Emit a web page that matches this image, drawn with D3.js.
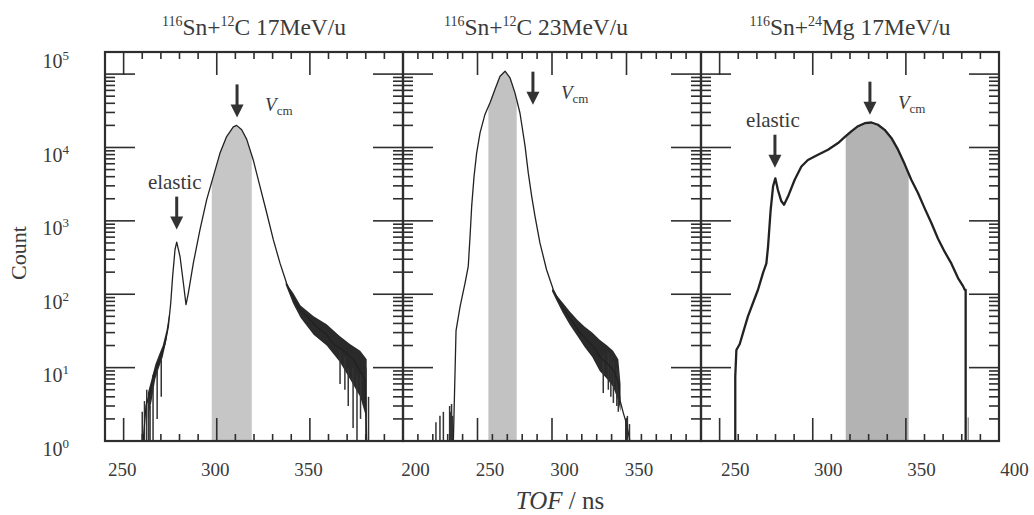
<!DOCTYPE html>
<html>
<head>
<meta charset="utf-8">
<script src="https://cdn.jsdelivr.net/npm/d3@7"></script>
<style>
body { margin: 0; background: #fff; }
svg { display: block; font-family: "Liberation Serif", "DejaVu Serif", serif; }
</style>
</head>
<body>
<div id="chart"></div>
<script>
// ---- values ----
var titleSupA = ["116", "116", "116"],
	titleMidA = ["Sn+", "Sn+", "Sn+"],
	titleSupB = ["12", "12", "24"],
	titleEnd = ["C 17MeV/u", "C 23MeV/u", "Mg 17MeV/u"];

var xDomains = [[240, 400], [200, 400], [240, 400]];
var xLabels = [[250, 300, 350], [200, 250, 300, 350], [250, 300, 350, 400]];
var yDomain = [1, 2e5];
var yLabels = [1, 10, 100, 1000, 10000, 100000];

// 116Sn + 12C 17 MeV/u
var p1Ns = [260.5, 262, 264.5, 266.8, 269.5, 272.2, 274.0, 275.3, 276.3, 277.6, 278.5, 280.3, 282.1, 283.5, 284.7, 287.4, 291.0, 294.6, 298.2, 301.7, 305.3, 308.9, 310.7, 313.4, 316.1, 319.6, 323.2, 326.8, 330.4, 334.0, 337.5, 341.1, 344.7, 348.3, 353.6, 359.0, 362.6, 368.0, 373.3, 376.9, 379.6, 380.5];
var p1Count = [1, 3, 5, 9, 13, 21, 36, 76, 174, 407, 513, 324, 141, 72, 102, 263, 759, 1950, 4070, 8320, 14100, 19100, 20000, 17400, 12900, 6760, 2950, 1290, 550, 263, 141, 89, 62, 50, 36, 28, 21, 17, 13, 9, 7, 1];
var p1RiseNs = [263, 265, 267, 269, 271, 273, 274.5];
var p1RiseLo = [2, 3.5, 7, 10, 14, 24, 45];
var p1RiseHi = [4.5, 7, 11, 15, 20, 32, 55];
var p1TailNs = [337, 341, 345, 352, 359, 366, 371.5, 377, 380.5];
var p1TailLo = [135, 75, 48, 28, 20, 12, 7, 4, 2];
var p1TailHi = [145, 105, 70, 50, 39, 27, 21, 17, 13];
var p1SpikeNs = [260.0, 261.2, 262.4, 263.5, 264.2, 265.8, 268.0, 270.2, 366.2, 368.8, 370.6, 373.2, 375.3, 377.2, 380.1, 381.5];
var p1SpikeLo = [1, 1, 1, 1, 1, 1, 2, 4, 6, 5, 3, 1.5, 1, 2, 1, 1];
var p1SpikeHi = [2.5, 3.5, 5, 4, 3, 8, 10, 14, 18, 14, 10, 10, 8, 8, 10, 4];

// 116Sn + 12C 23 MeV/u
var p2Ns = [233.8, 235.6, 238.3, 241.6, 243.8, 245.0, 246.1, 247.7, 249.4, 251.7, 255.0, 258.4, 261.7, 265.1, 268.5, 271.8, 275.2, 278.5, 281.9, 284.1, 286.4, 288.6, 291.9, 296.4, 300.9, 305.4, 309.8, 314.3, 318.8, 323.3, 327.7, 332.2, 336.7, 341.2, 344.5, 345.6, 347.9, 350.1, 352.3];
var p2Count = [1, 32, 68, 141, 240, 617, 1585, 4070, 8320, 15850, 28200, 40700, 61700, 93300, 109600, 89100, 55000, 29500, 10500, 4470, 2140, 1150, 501, 214, 115, 76, 55, 41, 30, 24, 19.5, 14, 11.5, 9.3, 6.2, 3.6, 2.4, 1.7, 1];
var p2TailNs = [300, 303, 307, 312, 317, 322, 327, 332, 337, 341, 344.5, 346];
var p2TailLo = [110, 82, 57, 38, 27, 19, 14, 9, 7, 5.5, 3.5, 2.5];
var p2TailHi = [120, 98, 78, 58, 45, 36, 30, 24, 20, 17, 13, 6];
var p2SpikeNs = [222.1, 224.8, 227.1, 231.3, 232.0, 232.6, 233.2, 334.4, 337.8, 339.5, 341.2, 343.5, 344.5, 349.5, 350.6, 352.0];
var p2SpikeLo = [1, 1, 1, 1, 1, 1, 1, 4.5, 5, 4, 3.3, 3, 2.5, 1, 1, 1];
var p2SpikeHi = [1.8, 2.2, 2.5, 3.0, 2.5, 3.2, 2.2, 15, 16, 14, 12, 10, 9, 2, 2.2, 1.7];

// 116Sn + 24Mg 17 MeV/u
var p3Ns = [258.4, 258.4, 259.0, 260.8, 262.6, 265.2, 267.9, 270.6, 273.3, 275.1, 276.0, 277.4, 278.7, 279.9, 281.3, 283.1, 284.6, 286.7, 290.3, 293.9, 297.4, 302.8, 308.2, 313.6, 317.1, 320.7, 324.3, 327.9, 331.5, 335.0, 338.6, 342.2, 345.8, 349.4, 352.9, 356.5, 360.1, 363.7, 367.2, 370.8, 374.4, 378.0, 380.7, 381.6, 382.1, 382.1];
var p3Count = [1, 7.6, 17.4, 21, 30, 50, 76, 115, 195, 263, 447, 1410, 2950, 3800, 2630, 1860, 1660, 2140, 3630, 5500, 6760, 7940, 9330, 11500, 13800, 16600, 19500, 21400, 21900, 20400, 17400, 13500, 9330, 5890, 3630, 2400, 1480, 933, 575, 380, 263, 166, 129, 115, 115, 1];
var p3SpikeNs = [383.5];
var p3SpikeLo = [1];
var p3SpikeHi = [2.1];

// gate windows (shaded) and arrows
var shadeFrom = [297.3, 257.3, 317.7],
	shadeTo = [318.8, 276.3, 351.5];
var annPanel = [0, 0, 1, 2, 2],
	annKind = ["elastic", "vcm", "vcm", "elastic", "vcm"],
	annNs = [278.5, 310.9, 287.2, 279.7, 330.7],
	annCount = [760, 25700, 38300, 5300, 28000];

// ---- layout ----
var W = 1034, H = 515,
	mLeft = 105, panelW = 298, mTop = 52, mBottom = 441,
	ink = "#2e2e2e", textInk = "#3a3a3a",
	labelShift = [-2, 12, 15];

var panels = [
	{ ns: p1Ns, count: p1Count, bands: [[p1RiseNs, p1RiseLo, p1RiseHi], [p1TailNs, p1TailLo, p1TailHi]], spikes: [p1SpikeNs, p1SpikeLo, p1SpikeHi], width: 1.3, shade: "#c6c6c6" },
	{ ns: p2Ns, count: p2Count, bands: [[p2TailNs, p2TailLo, p2TailHi]], spikes: [p2SpikeNs, p2SpikeLo, p2SpikeHi], width: 1.3, shade: "#c2c2c2" },
	{ ns: p3Ns, count: p3Count, bands: [], spikes: [p3SpikeNs, p3SpikeLo, p3SpikeHi], width: 2.3, shade: "#b3b3b3" }
];

var svg = d3.select("#chart").append("svg")
	.attr("width", W)
	.attr("height", H);

var y = d3.scaleLog().domain(yDomain).range([mBottom, mTop]);

// log tick values 1..9 per decade
var yTicks = [];
for (var d = 1; d <= yDomain[1]; d *= 10)
	for (var k = 1; k < 10; k++)
		if (k * d <= yDomain[1]) yTicks.push({ v: k * d, major: k === 1 });

panels.forEach(function (p, i) {
	var x0 = mLeft + i * panelW,
		x = d3.scaleLinear().domain(xDomains[i]).range([x0, x0 + panelW]),
		g = svg.append("g"),
		clipId = "clip" + i,
		shadeId = "shade" + i;

	var defs = svg.append("defs");
	defs.append("clipPath").attr("id", clipId)
		.append("rect").attr("x", x0).attr("y", mTop).attr("width", panelW).attr("height", mBottom - mTop);
	defs.append("clipPath").attr("id", shadeId)
		.append("rect").attr("x", x(shadeFrom[i])).attr("y", mTop)
		.attr("width", x(shadeTo[i]) - x(shadeFrom[i])).attr("height", mBottom - mTop);

	var rows = p.ns.map(function (v, j) { return { ns: v, c: p.count[j] }; });
	var data = g.append("g").attr("clip-path", "url(#" + clipId + ")");

	// shaded gate under the curve
	data.append("path")
		.datum(rows)
		.attr("clip-path", "url(#" + shadeId + ")")
		.attr("fill", p.shade)
		.attr("d", d3.area().x(function (r) { return x(r.ns); }).y0(mBottom).y1(function (r) { return y(r.c); }));

	// noisy parts as dark bands
	p.bands.forEach(function (b) {
		var br = b[0].map(function (v, j) { return { ns: v, lo: b[1][j], hi: b[2][j] }; });
		data.append("path")
			.datum(br)
			.attr("fill", "#2a2a2a")
			.attr("d", d3.area().x(function (r) { return x(r.ns); })
				.y0(function (r) { return y(r.lo); }).y1(function (r) { return y(r.hi); }));
	});

	var sp = p.spikes[0].map(function (v, j) { return { ns: v, lo: p.spikes[1][j], hi: p.spikes[2][j] }; });
	data.selectAll("line.spike").data(sp).join("line")
		.attr("class", "spike")
		.attr("x1", function (r) { return x(r.ns); }).attr("x2", function (r) { return x(r.ns); })
		.attr("y1", function (r) { return y(r.lo); }).attr("y2", function (r) { return y(r.hi); })
		.attr("stroke", i === 2 ? "#999" : "#333")
		.attr("stroke-width", 1.5);

	data.append("path")
		.datum(rows)
		.attr("fill", "none")
		.attr("stroke", "#222")
		.attr("stroke-width", p.width)
		.attr("stroke-linejoin", "round")
		.attr("d", d3.line().x(function (r) { return x(r.ns); }).y(function (r) { return y(r.c); }));

	// frame
	g.append("rect")
		.attr("x", x0).attr("y", mTop)
		.attr("width", panelW).attr("height", mBottom - mTop)
		.attr("fill", "none").attr("stroke", ink).attr("stroke-width", 2.2);

	// x ticks: every 10 ns, long every 50, on top and bottom, pointing in
	var xt = d3.range(xDomains[i][0], xDomains[i][1] + 1, 10);
	var tk = g.append("g").attr("stroke", ink).attr("stroke-width", 1.6);
	xt.forEach(function (v) {
		var len = v % 50 === 0 ? 23 : 7;
		tk.append("line").attr("x1", x(v)).attr("x2", x(v)).attr("y1", mTop).attr("y2", mTop + len);
		tk.append("line").attr("x1", x(v)).attr("x2", x(v)).attr("y1", mBottom).attr("y2", mBottom - len);
	});
	// y ticks on both sides, pointing in
	yTicks.forEach(function (t) {
		var len = t.major ? 30 : 10;
		tk.append("line").attr("x1", x0).attr("x2", x0 + len).attr("y1", y(t.v)).attr("y2", y(t.v));
		tk.append("line").attr("x1", x0 + panelW).attr("x2", x0 + panelW - len).attr("y1", y(t.v)).attr("y2", y(t.v));
	});

	// x tick labels through a d3 axis
	var ax = g.append("g")
		.attr("transform", "translate(0," + mBottom + ")")
		.call(d3.axisBottom(x).tickValues(xLabels[i]).tickSize(0).tickPadding(22).tickFormat(d3.format("d")));
	ax.select(".domain").remove();
	ax.selectAll("text")
		.attr("dx", labelShift[i])
		.style("font-family", "'Liberation Serif', serif")
		.style("font-size", "19px")
		.attr("fill", textInk);

	// title
	var tt = svg.append("text")
		.attr("x", x0 + panelW / 2 + (i === 1 ? -16 : 0))
		.attr("y", 35)
		.attr("text-anchor", "middle")
		.attr("fill", textInk)
		.style("font-size", "23.5px");
	tt.append("tspan").attr("dy", -9).style("font-size", "14px").text(titleSupA[i]);
	tt.append("tspan").attr("dy", 9).text(titleMidA[i]);
	tt.append("tspan").attr("dy", -9).style("font-size", "14px").text(titleSupB[i]);
	tt.append("tspan").attr("dy", 9).text(titleEnd[i]);
});

// y tick labels 10^n
var yax = svg.append("g")
	.attr("transform", "translate(" + mLeft + ",0)")
	.call(d3.axisLeft(y).tickValues(yLabels).tickSize(0).tickPadding(36).tickFormat(function () { return ""; }));
yax.select(".domain").remove();
yax.selectAll("text")
	.attr("fill", textInk)
	.style("font-family", "'Liberation Serif', serif")
	.style("font-size", "20px")
	.attr("dy", function (v) { return v === 1e5 ? "-0.35em" : "0.7em"; })
	.each(function (v) {
		var t = d3.select(this);
		t.append("tspan").text("10");
		t.append("tspan").attr("dy", -8).style("font-size", "13px").text(Math.round(Math.log10(v)));
	});

// arrows and labels
annPanel.forEach(function (pi, j) {
	var x0 = mLeft + pi * panelW,
		x = d3.scaleLinear().domain(xDomains[pi]).range([x0, x0 + panelW]),
		ax = x(annNs[j]),
		ay = y(annCount[j]);

	svg.append("line")
		.attr("x1", ax).attr("x2", ax).attr("y1", ay - 33).attr("y2", ay - 11)
		.attr("stroke", "#333").attr("stroke-width", 3);
	svg.append("path")
		.attr("d", "M" + (ax - 6.5) + "," + (ay - 13) + "L" + (ax + 6.5) + "," + (ay - 13) + "L" + ax + "," + ay + "Z")
		.attr("fill", "#333");

	if (annKind[j] === "elastic") {
		svg.append("text")
			.attr("x", ax - 2).attr("y", ay - 41)
			.attr("text-anchor", "middle")
			.attr("fill", textInk)
			.style("font-size", "21px")
			.text("elastic");
	} else {
		var vt = svg.append("text")
			.attr("x", ax + 28).attr("y", ay - 6)
			.attr("fill", textInk)
			.style("font-size", "19px");
		vt.append("tspan").style("font-style", "italic").text("V");
		vt.append("tspan").attr("dy", 4).style("font-size", "13px").text("cm");
	}
});

// axis titles
svg.append("text")
	.attr("transform", "translate(26,253) rotate(-90)")
	.attr("text-anchor", "middle")
	.attr("fill", textInk)
	.style("font-size", "22px")
	.text("Count");

var xt = svg.append("text")
	.attr("x", 560).attr("y", 509)
	.attr("text-anchor", "middle")
	.attr("fill", textInk)
	.style("font-size", "25px");
xt.append("tspan").style("font-style", "italic").text("TOF");
xt.append("tspan").text(" / ns");
</script>
</body>
</html>
